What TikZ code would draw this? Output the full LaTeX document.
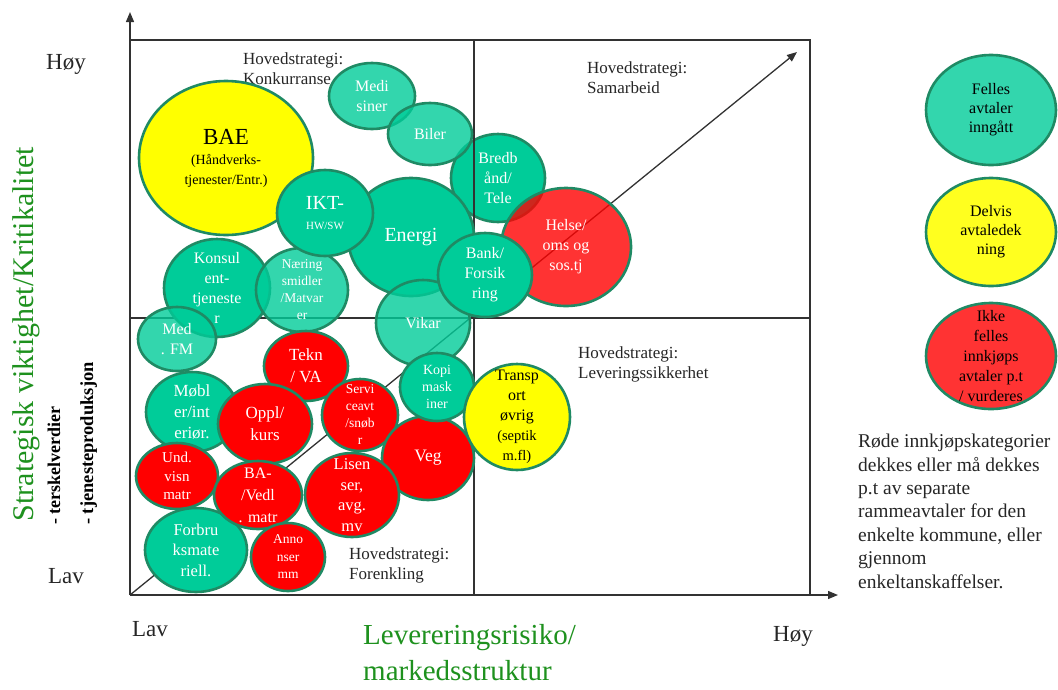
\documentclass[tikz,border=0pt]{standalone}
\usepackage{fontspec}
\setmainfont{Liberation Serif}
\usetikzlibrary{shapes.geometric,arrows.meta}
\definecolor{tealf}{RGB}{0,204,153}
\definecolor{tealedge}{RGB}{31,138,100}
\definecolor{axgreen}{RGB}{30,145,30}
\definecolor{redf}{RGB}{255,0,0}
\definecolor{yelf}{RGB}{255,255,0}
\definecolor{linec}{RGB}{50,50,50}
\newcommand\bubl[8]{%
  \node[#6, minimum width={2*#4-2}, minimum height={2*#5-2}] (#1) at (#2,#3) {};
  \node[#7] (#1t) at (#1.center) {#8};
}
\tikzset{
  bub/.style={ellipse, draw=tealedge, line width=2.6pt, inner sep=0pt},
  tealbub/.style={bub, fill=tealf},
  lightbub/.style={bub, fill=tealf, fill opacity=0.8},
  redbub/.style={bub, fill=redf},
  lredbub/.style={bub, fill=redf, fill opacity=0.8},
  yelbub/.style={bub, fill=yelf},
  wt/.style={text=white, align=center, inner sep=0pt, font=\fontsize{16}{20}\selectfont},
  bt/.style={wt, text=black},
  axline/.style={draw=linec, line width=1.3pt},
  axarrow/.style={axline, -{Triangle[length=10pt,width=8pt]}},
  quadlbl/.style={anchor=north west, align=left, inner sep=0pt, text=black!85, font=\fontsize{17}{20.5}\selectfont},
  ends/.style={anchor=base, inner sep=0pt, text=black!85, font=\fontsize{23}{27}\selectfont},
}
\begin{document}
\begin{tikzpicture}[x=1pt,y=-1pt]
\useasboundingbox (0,0) rectangle (1058,689);
% bubble drawn under the grid line
\bubl{bredb}{498}{178}{48}{45}{tealbub}{wt}{Bredb\\ånd/\\Tele}
% axes and quadrants
\coordinate (O) at (130,595);
\coordinate (ytop) at (130,12);
\coordinate (xend) at (838,595);
\coordinate (tl) at (130,40);
\coordinate (tr) at (810,40);
\coordinate (br) at (810,595);
\coordinate (mt) at (474,40);
\coordinate (mb) at (474,595);
\coordinate (ml) at (130,318);
\coordinate (mr) at (810,318);
\coordinate (diag) at (797,52);
\draw[axline] (tl) -- (tr) -- (br);
\draw[axline] (mt) -- (mb);
\draw[axline] (ml) -- (mr);
\draw[axarrow] (O) -- (ytop);
\draw[axarrow] (O) -- (xend);
\draw[axarrow] (O) -- (diag);
% quadrant labels
\node[quadlbl] (qk) at (243,52) {Hovedstrategi:\\Konkurranse};
\node[quadlbl] (qs) at (587,61) {Hovedstrategi:\\Samarbeid};
\node[quadlbl] (ql) at (578,346) {Hovedstrategi:\\Leveringssikkerhet};
\node[quadlbl] (qf) at (349,547) {Hovedstrategi:\\Forenkling};
% bubbles
\bubl{bae}{226}{158}{88}{78}{yelbub}{bt}{{\fontsize{23}{26}\selectfont BAE}\\{\fontsize{14}{17}\selectfont (Håndverks-}\\{\fontsize{14}{17}\selectfont tjenester/Entr.)}}
\bubl{konsul}{217}{288}{54}{50}{tealbub}{wt}{Konsul\\ent-\\tjeneste\\r}
\bubl{medfm}{177}{339}{40}{33}{lightbub}{wt}{Med\\. FM}
\bubl{naering}{302}{290}{47}{43}{lightbub}{wt, font=\fontsize{13.5}{17}\selectfont}{Næring\\smidler\\/Matvar\\er}
\bubl{medi}{372}{96}{44}{34}{lightbub}{wt}{Medi\\siner}
\bubl{biler}{430}{134}{43}{32}{lightbub}{wt}{Biler}
\bubl{energi}{411}{237}{64}{60}{tealbub}{wt, font=\fontsize{20}{24}\selectfont}{Energi}
\bubl{ikt}{325}{213}{49}{44}{tealbub}{wt}{{\fontsize{20}{22}\selectfont IKT-}\\{\fontsize{11}{13}\selectfont HW/SW}}
\bubl{helse}{566}{247}{66}{60}{lredbub}{wt}{Helse/\\oms og\\sos.tj}
\bubl{vikar}{423}{323}{48}{44}{lightbub}{wt}{Vikar}
\bubl{bank}{485}{275}{48}{43}{tealbub}{wt}{Bank/\\Forsik\\ring}
\bubl{tekn}{306}{366}{43}{36}{redbub}{wt, font=\fontsize{17}{22}\selectfont}{Tekn\\/ VA}
\bubl{moebler}{192}{412}{47}{41}{tealbub}{wt, font=\fontsize{17}{21}\selectfont}{Møbl\\er/int\\eriør.}
\bubl{oppl}{265}{424}{48}{41}{redbub}{wt, font=\fontsize{17}{22}\selectfont}{Oppl/\\kurs}
\bubl{servi}{360}{415}{39}{37}{redbub}{wt, font=\fontsize{13.5}{17}\selectfont}{Servi\\ceavt\\/snøb\\r}
\bubl{forbr}{196}{550}{52}{43}{tealbub}{wt, font=\fontsize{16.5}{20.5}\selectfont}{Forbru\\ksmate\\riell.}
\bubl{und}{177}{476}{42}{34}{redbub}{wt, font=\fontsize{15}{18.5}\selectfont}{Und.\\visn\\matr}
\bubl{ba}{258}{495}{45}{35}{redbub}{wt, font=\fontsize{16}{22}\selectfont}{BA-\\/Vedl\\. matr}
\bubl{veg}{428}{458}{47}{43}{redbub}{wt, font=\fontsize{17.5}{21}\selectfont}{Veg}
\bubl{lisen}{352}{495}{48}{43}{redbub}{wt, font=\fontsize{16.5}{20.5}\selectfont}{Lisen\\ser,\\avg.\\mv}
\bubl{anno}{288}{557}{38}{35}{redbub}{wt, font=\fontsize{13.5}{17.5}\selectfont}{Anno\\nser\\mm}
\bubl{kopi}{437}{387}{38}{35}{tealbub}{wt, font=\fontsize{14}{17}\selectfont}{Kopi\\mask\\iner}
\bubl{transp}{517}{417}{54}{54}{yelbub}{bt}{Transp\\ort\\øvrig\\{\fontsize{14.5}{17}\selectfont (septik}\\{\fontsize{14.5}{17}\selectfont m.fl)}}
% legend
\bubl{leg1}{991}{110}{66}{56}{lightbub}{bt, font=\fontsize{16}{19}\selectfont}{Felles\\avtaler\\inngått}
\bubl{leg2}{991}{232}{66}{55}{bub, fill=yelf!88!white}{bt, font=\fontsize{16}{19}\selectfont}{Delvis\\avtaledek\\ning}
\bubl{leg3}{991}{356}{66}{54}{lredbub}{bt, font=\fontsize{16}{20}\selectfont}{Ikke\\felles\\innkjøps\\avtaler p.t\\/ vurderes}
\node[anchor=north west, align=left, inner sep=0pt, text=black!85, font=\fontsize{19.5}{23.4}\selectfont] (note) at (858,434)
  {Røde innkjøpskategorier\\dekkes eller må dekkes\\p.t av separate\\rammeavtaler for den\\enkelte kommune, eller\\gjennom\\enkeltanskaffelser.};
% axis labels
\node[ends] (yhigh) at (66,69) {Høy};
\node[ends] (ylow) at (66,583) {Lav};
\node[ends] (xlow) at (150,636) {Lav};
\node[ends] (xhigh) at (793,641) {Høy};
\node[rotate=90, anchor=base, inner sep=0pt, text=axgreen, font=\fontsize{30}{36}\selectfont] (ytitle) at (33,334) {Strategisk viktighet/Kritikalitet};
\node[rotate=90, anchor=base west, inner sep=0pt, font=\bfseries\fontsize{18}{22}\selectfont] (ysub1) at (60,525) {- terskelverdier};
\node[rotate=90, anchor=base west, inner sep=0pt, font=\bfseries\fontsize{18.5}{22}\selectfont] (ysub2) at (93,525) {- tjenesteproduksjon};
\node[anchor=north west, align=left, inner sep=0pt, text=axgreen, font=\fontsize{29}{36}\selectfont] (xtitle) at (363,624) {Levereringsrisiko/\\markedsstruktur};
\end{tikzpicture}
\end{document}
